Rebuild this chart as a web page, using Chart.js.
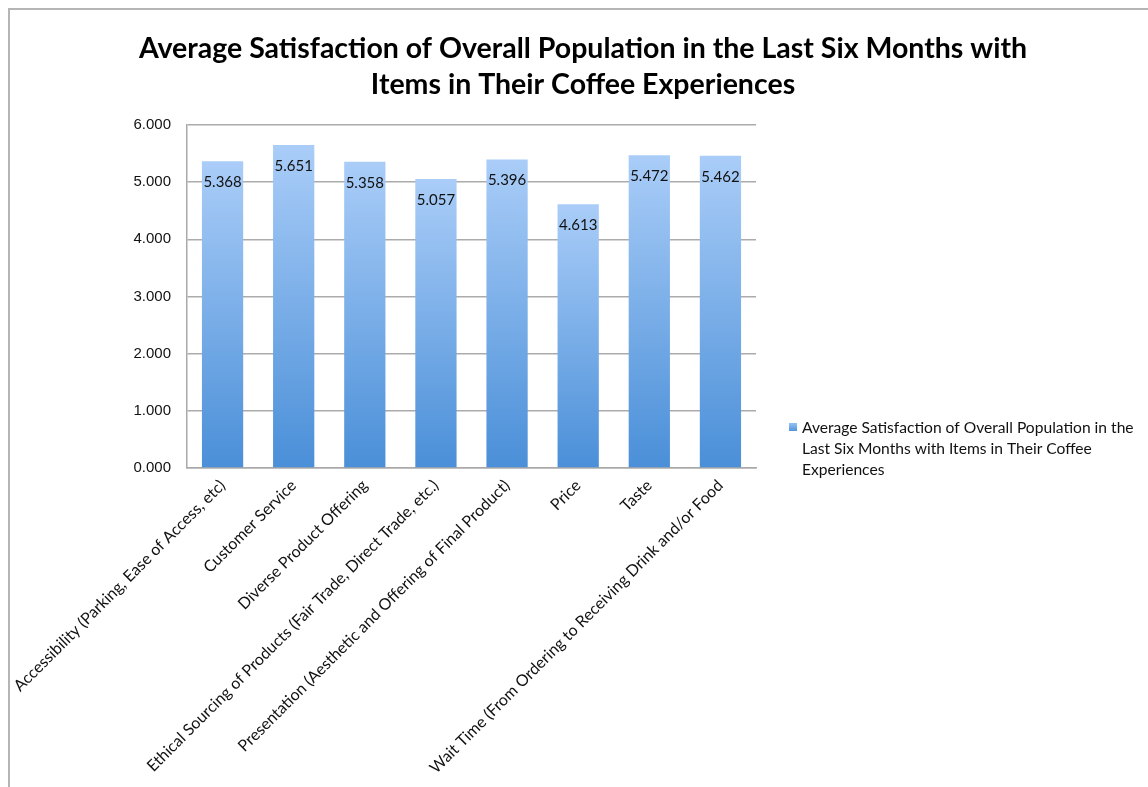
<!DOCTYPE html>
<html>
<head>
<meta charset="utf-8">
<script src="https://cdn.jsdelivr.net/npm/chart.js@4"></script>
<style>
  body { margin: 0; background: #fff; }
  #frame { position: absolute; left: 8px; top: 8px; width: 1140px; height: 779px;
           border-left: 2px solid #b5b5b5; border-top: 2px solid #b5b5b5; }
  #wrap { position: absolute; left: 0; top: 0; width: 1148px; height: 787px; }
</style>
</head>
<body>
<div id="frame"></div>
<div id="wrap"><canvas id="chart"></canvas></div>
<script>
// data
var categories = [
  'Accessibility (Parking, Ease of Access, etc)',
  'Customer Service',
  'Diverse Product Offering',
  'Ethical Sourcing of Products (Fair Trade, Direct Trade, etc.)',
  'Presentation (Aesthetic and Offering of Final Product)',
  'Price',
  'Taste',
  'Wait Time (From Ordering to Receiving Drink and/or Food'
];
var satisfaction = [5.368, 5.651, 5.358, 5.057, 5.396, 4.613, 5.472, 5.462];
var yTicks = [0, 1, 2, 3, 4, 5, 6];

var titleLines = [
  'Average Satisfaction of Overall Population in the Last Six Months with',
  'Items in Their Coffee Experiences'
];
var seriesLines = [
  'Average Satisfaction of Overall Population in the',
  'Last Six Months with Items in Their Coffee',
  'Experiences'
];

var FONT = 'Lato';

// each bar gets its own light-to-dark gradient, top to base
function barGradient(c) {
  var chart = c.chart;
  if (!chart.chartArea || c.type !== 'data') return '#7fb2ec';
  var y = chart.scales.y;
  var g = chart.ctx.createLinearGradient(0, y.getPixelForValue(c.raw), 0, y.getPixelForValue(0));
  g.addColorStop(0, '#aacdf8');
  g.addColorStop(1, '#4a8fd8');
  return g;
}

// values printed inside the top of each bar
var valueLabels = {
  id: 'valueLabels',
  afterDatasetsDraw: function(chart) {
    var ctx = chart.ctx;
    var meta = chart.getDatasetMeta(0);
    ctx.save();
    ctx.font = '15px ' + FONT;
    ctx.fillStyle = '#111';
    ctx.textAlign = 'center';
    ctx.textBaseline = 'middle';
    meta.data.forEach(function(bar, i) {
      ctx.fillText(satisfaction[i].toFixed(3), bar.x, bar.y + 21);
    });
    ctx.restore();
  }
};

// legend to the right, wrapped over three lines
var sideLegend = {
  id: 'sideLegend',
  afterDraw: function(chart) {
    var ctx = chart.ctx;
    var x = chart.chartArea.right + 33;
    var y = 428;
    ctx.save();
    var g = ctx.createLinearGradient(0, y - 4, 0, y + 4);
    g.addColorStop(0, '#8dbcf2');
    g.addColorStop(1, '#4a8fd8');
    ctx.fillStyle = g;
    ctx.fillRect(x, y - 5, 8, 8);
    ctx.font = '15.6px ' + FONT;
    ctx.fillStyle = '#111';
    ctx.textBaseline = 'middle';
    seriesLines.forEach(function(line, i) {
      ctx.fillText(line, x + 13, y + i * 21);
    });
    ctx.restore();
  }
};

var config = {
  type: 'bar',
  data: {
    labels: categories,
    datasets: [{
      label: seriesLines.join(' '),
      data: satisfaction,
      backgroundColor: barGradient,
      borderWidth: 0,
      barPercentage: 0.58,
      categoryPercentage: 1
    }]
  },
  options: {
    responsive: true,
    maintainAspectRatio: false,
    animation: false,
    layout: { padding: { left: 18, top: 0, right: 0, bottom: 0 } },
    plugins: {
      legend: { display: false },
      tooltip: { enabled: false },
      title: {
        display: true,
        text: titleLines,
        color: '#000',
        font: { family: FONT, size: 28.5, weight: 'bold', lineHeight: '36px' },
        padding: { top: 31, bottom: 22 }
      }
    },
    scales: {
      x: {
        grid: { display: false, drawTicks: false },
        border: { color: '#a9a9a9', width: 1.5 },
        ticks: {
          autoSkip: false, minRotation: 45, maxRotation: 45,
          padding: 8, color: '#111',
          font: { family: FONT, size: 16 }
        },
        afterFit: function(s) {
          s.height = 319;
          // the slanted first label may hang past the y axis, as in the original
          s.paddingLeft = 0;
          s.paddingRight = 0;
        }
      },
      y: {
        min: 0, max: 6,
        afterBuildTicks: function(s) {
          s.ticks = yTicks.map(function(v) { return { value: v }; });
        },
        grid: { color: '#ababab', lineWidth: 1.5, drawTicks: false },
        border: { color: '#a9a9a9', width: 1.5 },
        ticks: {
          padding: 16, color: '#111',
          font: { family: 'Liberation Sans', size: 15 },
          callback: function(v) { return Number(v).toFixed(3); }
        },
        afterFit: function(s) { s.width = 169; }
      },
      // empty axis that only keeps the right side free for the legend
      side: {
        position: 'right',
        grid: { display: false },
        border: { display: false },
        ticks: { display: false },
        afterFit: function(s) { s.width = 392; }
      }
    }
  },
  plugins: [valueLabels, sideLegend]
};

var myChart = new Chart(document.getElementById('chart'), config);
</script>
</body>
</html>
